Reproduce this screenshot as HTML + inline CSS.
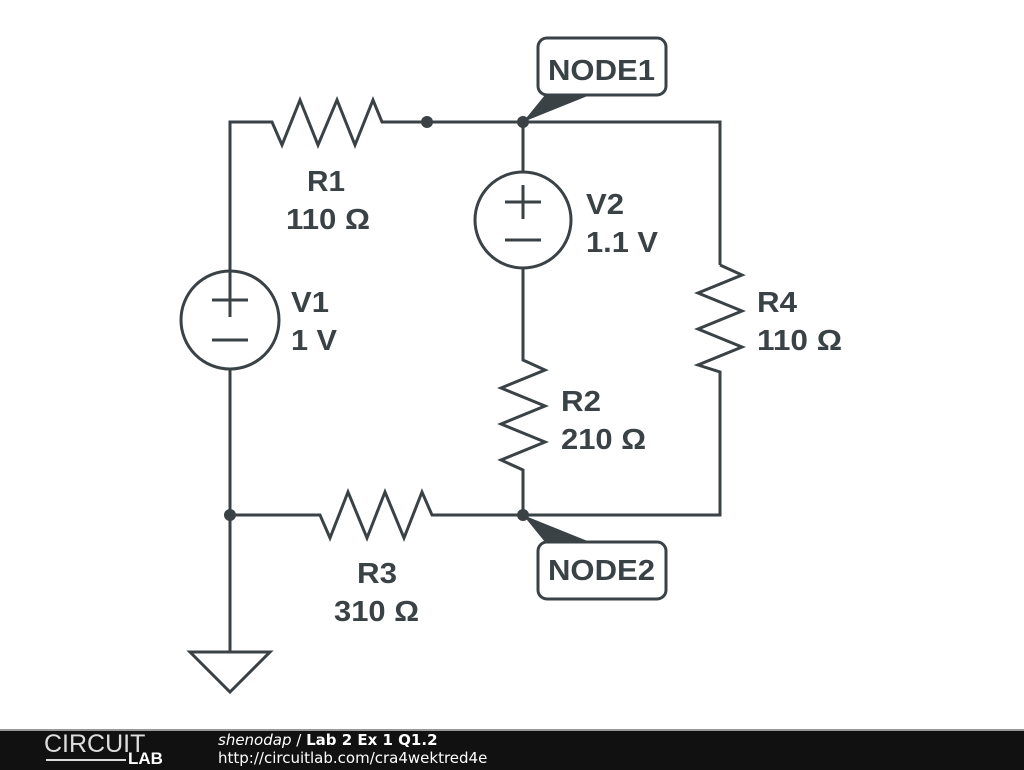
<!DOCTYPE html>
<html><head><style>
body{margin:0;background:#fff;width:1024px;height:768px;overflow:hidden;position:relative;font-family:"Liberation Sans",sans-serif}
.bar{position:absolute;left:0;top:729px;width:1024px;height:39px;background:#111;border-top:2px solid #999}
</style></head><body>
<svg width="1024" height="730" style="position:absolute;left:0;top:0">
<g stroke="#3b4246" stroke-width="3" fill="none" stroke-linejoin="miter">
<polyline points="230,310 230,122 272,122 282,145 300,100 318,145 337,100 355,145 373,100 382,122 720,122 720,265"/>
<polyline points="720,265 742,275 698,293 742,311 698,329 742,347 698,365 720,372 720,515 523,515"/>
<line x1="523" y1="122" x2="523" y2="172"/>
<circle cx="523" cy="220" r="48"/>
<polyline points="523,268 523,360 545,370 501,388 545,406 501,424 545,442 501,460 523,470 523,515"/>
<circle cx="230" cy="320" r="49"/>
<line x1="230" y1="369" x2="230" y2="652"/>
<polyline points="230,515 320,515 330,538 348,492 367,538 385,492 404,538 422,492 432,515 523,515"/>
<polygon points="190,652 270,652 230,692"/>
<line x1="212" y1="300" x2="248" y2="300"/><line x1="230" y1="283" x2="230" y2="317"/><line x1="212" y1="340" x2="248" y2="340"/>
<line x1="505" y1="202" x2="541" y2="202"/><line x1="523" y1="185" x2="523" y2="219"/><line x1="505" y1="240" x2="541" y2="240"/>
<rect x="538" y="38" width="128" height="57" rx="9" fill="#fff"/>
<rect x="538" y="542" width="128" height="57" rx="9" fill="#fff"/>
</g>
<g fill="#3b4246">
<circle cx="427" cy="122" r="6"/><circle cx="523" cy="122" r="6"/>
<circle cx="230" cy="515" r="6"/><circle cx="523" cy="515" r="6"/>
<polygon points="523,122 545,95 590,95"/>
<polygon points="523,515 545,542 590,542"/>
</g>
<g fill="#3b4246" font-family="Liberation Sans,sans-serif" font-weight="bold" font-size="29">
<text x="307" y="191" textLength="38" lengthAdjust="spacingAndGlyphs">R1</text><text x="286" y="229" textLength="84" lengthAdjust="spacingAndGlyphs">110 Ω</text>
<text x="586" y="214" textLength="38" lengthAdjust="spacingAndGlyphs">V2</text><text x="586" y="252" textLength="72" lengthAdjust="spacingAndGlyphs">1.1 V</text>
<text x="291" y="312" textLength="38" lengthAdjust="spacingAndGlyphs">V1</text><text x="291" y="350" textLength="46" lengthAdjust="spacingAndGlyphs">1 V</text>
<text x="757" y="312" textLength="40" lengthAdjust="spacingAndGlyphs">R4</text><text x="757" y="350" textLength="85" lengthAdjust="spacingAndGlyphs">110 Ω</text>
<text x="561" y="411" textLength="40" lengthAdjust="spacingAndGlyphs">R2</text><text x="561" y="449" textLength="85" lengthAdjust="spacingAndGlyphs">210 Ω</text>
<text x="357" y="583" textLength="40" lengthAdjust="spacingAndGlyphs">R3</text><text x="334" y="621" textLength="85" lengthAdjust="spacingAndGlyphs">310 Ω</text>
<text x="548" y="80" textLength="107" lengthAdjust="spacingAndGlyphs">NODE1</text><text x="548" y="580" textLength="107" lengthAdjust="spacingAndGlyphs">NODE2</text>
</g>
</svg>
<div class="bar">
<div style="position:absolute;left:44px;top:1px;color:#ddd;font-size:25px;letter-spacing:0px;line-height:24px;font-weight:300">CIRCUIT</div>
<div style="position:absolute;left:128px;top:20px;color:#fff;font-size:17px;font-weight:bold;line-height:16px">LAB</div>
<div style="position:absolute;left:46px;top:28px;width:80px;height:2px;background:#ddd"></div>
<div style="position:absolute;left:218px;top:0px;color:#fff;font-family:'DejaVu Sans',sans-serif;font-size:15px;line-height:18px"><i>shenodap</i> / <b>Lab 2 Ex 1 Q1.2</b><br>http://circuitlab.com/cra4wektred4e</div>
</div>
</body></html>
